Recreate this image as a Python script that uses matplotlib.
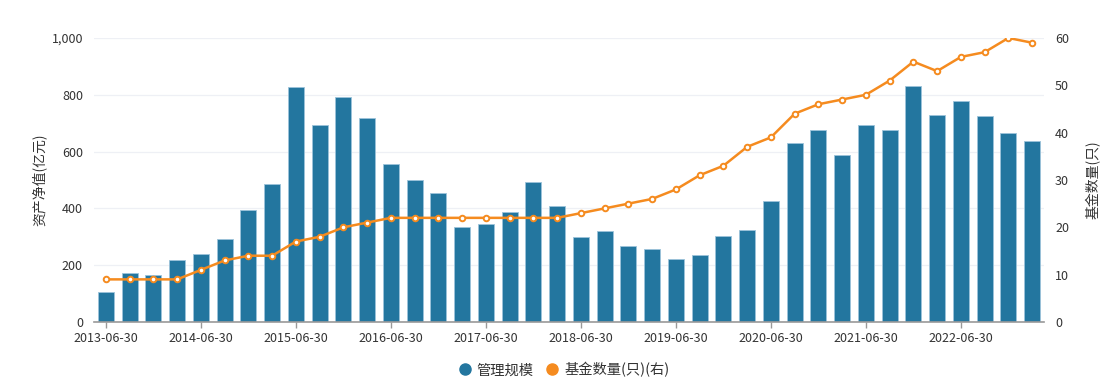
import matplotlib
matplotlib.use("Agg")
import matplotlib.pyplot as plt
from matplotlib.lines import Line2D

plt.rcParams['font.family'] = ['Noto Sans CJK SC', 'DejaVu Sans']

# quarterly dates 2013-06-30 .. 2023-03-31
dates = ['2013-06-30', '2013-09-30', '2013-12-31', '2014-03-31',
         '2014-06-30', '2014-09-30', '2014-12-31', '2015-03-31',
         '2015-06-30', '2015-09-30', '2015-12-31', '2016-03-31',
         '2016-06-30', '2016-09-30', '2016-12-31', '2017-03-31',
         '2017-06-30', '2017-09-30', '2017-12-31', '2018-03-31',
         '2018-06-30', '2018-09-30', '2018-12-31', '2019-03-31',
         '2019-06-30', '2019-09-30', '2019-12-31', '2020-03-31',
         '2020-06-30', '2020-09-30', '2020-12-31', '2021-03-31',
         '2021-06-30', '2021-09-30', '2021-12-31', '2022-03-31',
         '2022-06-30', '2022-09-30', '2022-12-31', '2023-03-31']

aum = [106, 172, 166, 218, 240, 292, 394, 486,
       828, 694, 792, 718, 556, 500, 454, 334,
       345, 387, 493, 408, 299, 320, 268, 257,
       222, 236, 303, 324, 426, 630, 676, 588,
       694, 676, 831, 729, 778, 725, 666, 637]

fund_count = [9, 9, 9, 9, 11, 13, 14, 14,
              17, 18, 20, 21, 22, 22, 22, 22,
              22, 22, 22, 22, 23, 24, 25, 26,
              28, 31, 33, 37, 39, 44, 46, 47,
              48, 51, 55, 53, 56, 57, 60, 59]

bar_color = '#23769f'
line_color = '#f58b1f'
text_color = '#333333'

fig = plt.figure(figsize=(11.13, 3.9), dpi=100)
ax = fig.add_axes([0.0845, 0.1744, 0.8535, 0.7282])
ax2 = ax.twinx()

x = list(range(len(dates)))
ax.bar(x, aum, width=0.675, color=bar_color, edgecolor='#9cc3da', linewidth=0.6, zorder=2)
ax2.plot(x, fund_count, color=line_color, linewidth=1.8, marker='o', markersize=4,
         markerfacecolor='white', markeredgecolor=line_color, markeredgewidth=1.4, zorder=3)

ax.set_xlim(-0.5, len(dates) - 0.5)
ax.set_ylim(0, 1000)
ax2.set_ylim(0, 60)
ax.set_yticks([0, 200, 400, 600, 800, 1000])
ax.set_yticklabels(['0', '200', '400', '600', '800', '1,000'])
ax2.set_yticks([0, 10, 20, 30, 40, 50, 60])

tick_idx = [i for i, d in enumerate(dates) if d.endswith('-06-30')]
ax.set_xticks(tick_idx)
ax.set_xticklabels([dates[i] for i in tick_idx])

ax.grid(axis='y', color='#eef0f5', linewidth=0.9, zorder=0)
ax.set_axisbelow(True)
for a in (ax, ax2):
    for s in ('top', 'left', 'right', 'bottom'):
        a.spines[s].set_visible(False)
ax.spines['bottom'].set_visible(True)
ax.spines['bottom'].set_color('#999999')
ax.spines['bottom'].set_linewidth(1.2)

ax.tick_params(axis='x', colors='#999999', length=4, width=1, labelcolor=text_color, labelsize=9, pad=3)
ax.tick_params(axis='y', length=0, labelcolor=text_color, labelsize=9, pad=8)
ax2.tick_params(axis='y', length=0, labelcolor=text_color, labelsize=9, pad=8)

ax.set_ylabel('资产净值(亿元)', fontsize=10, color=text_color, labelpad=3.5)
ax2.set_ylabel('基金数量(只)', fontsize=10, color=text_color, labelpad=12)

handles = [Line2D([], [], linestyle='none', marker='o', markersize=8, color=bar_color),
           Line2D([], [], linestyle='none', marker='o', markersize=8, color=line_color)]
fig.legend(handles, ['管理规模', '基金数量(只)(右)'], loc='center', bbox_to_anchor=(0.507, 0.052),
           ncol=2, frameon=False, fontsize=10.3, handlelength=0.8, handletextpad=0.45,
           columnspacing=0.9, labelcolor=text_color)

fig.savefig('out.png', dpi=100)
